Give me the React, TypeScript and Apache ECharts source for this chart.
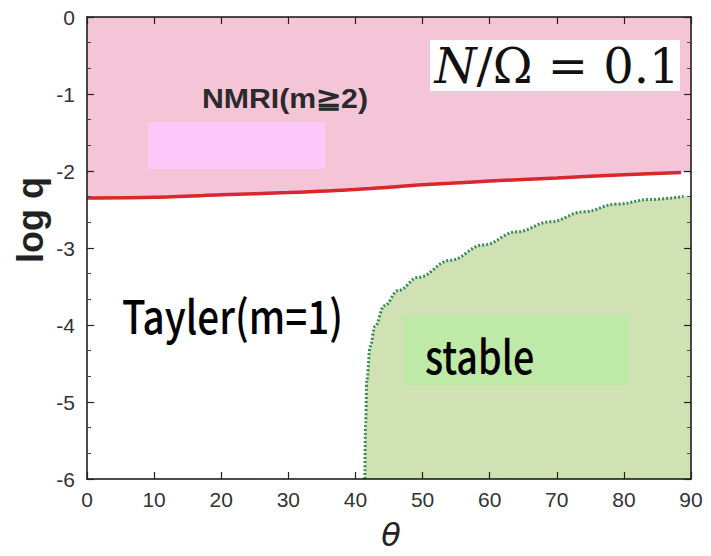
import React, { useEffect, useRef } from "react";
import * as echarts from "echarts";

// Red boundary (NMRI / Tayler)
const redTheta = [0, 10, 20, 30, 40, 50, 54, 60, 70, 80, 88.5];
const redLogQ = [-2.35, -2.34, -2.31, -2.28, -2.24, -2.18, -2.16, -2.13, -2.09, -2.05, -2.02];
// Pink region edge extended to the right frame
const pinkTheta = [0, 10, 20, 30, 40, 50, 54, 60, 70, 80, 88.5, 90];
const pinkLogQ = [-2.35, -2.34, -2.31, -2.28, -2.24, -2.18, -2.16, -2.13, -2.09, -2.05, -2.02, -2.02];
// Green boundary (stable region)
const greenTheta = [41.4, 41.5, 41.7, 42.2, 42.9, 44.3, 46.4, 49.4, 54.1, 59.1, 64.0, 69.0, 74.0, 78.9, 83.9, 88.9];
const greenLogQ = [-6, -5.3, -4.71, -4.28, -4.02, -3.75, -3.55, -3.38, -3.16, -2.96, -2.79, -2.66, -2.53, -2.43, -2.37, -2.33];
const greenFillTheta = [...greenTheta, 90];
const greenFillLogQ = [...greenLogQ, -2.32];

const xTicks = [0, 90, 10];
const yTicks = [-6, 0, 1];

const zip = (a: number[], b: number[]) => a.map((v, i) => [v, b[i]]);

export default function App() {
  const ref = useRef<HTMLDivElement>(null);
  useEffect(() => {
    document.body.style.margin = "0";
    const chart = echarts.init(ref.current!, null, { renderer: "svg" });
    const axisLine = () => ({ show: true, onZero: false, lineStyle: { color: "#111", width: 1.5 } });
    const tickStyle = () => ({ show: true, inside: true, length: 7, lineStyle: { color: "#222", width: 1.2 } });
    const minorStyle = () => ({ show: true, splitNumber: 3, length: 4, lineStyle: { color: "#444", width: 1 } });
    const labelFont = () => ({ color: "#333", fontSize: 21, fontFamily: "Liberation Sans, Arial, sans-serif" });
    chart.setOption({
      animation: false,
      backgroundColor: "#ffffff",
      grid: { left: 87, right: 20, top: 17, bottom: 77, containLabel: false, outerBoundsMode: "none" },
      xAxis: [
        {
          type: "value", position: "bottom", min: xTicks[0], max: xTicks[1], interval: xTicks[2], z: 10,
          axisLine: axisLine(), axisTick: tickStyle(), splitLine: { show: false },
          axisLabel: { ...labelFont(), margin: 10 },
        },
        {
          type: "value", position: "top", min: xTicks[0], max: xTicks[1], interval: xTicks[2], z: 10,
          axisLine: axisLine(), axisTick: tickStyle(), axisLabel: { show: false }, splitLine: { show: false },
        },
      ],
      yAxis: [
        {
          type: "value", position: "left", min: yTicks[0], max: yTicks[1], interval: yTicks[2], z: 10,
          axisLine: axisLine(), axisTick: tickStyle(), minorTick: minorStyle(), splitLine: { show: false },
          axisLabel: { ...labelFont(), margin: 12 },
        },
        {
          type: "value", position: "right", min: yTicks[0], max: yTicks[1], interval: yTicks[2], z: 10,
          axisLine: axisLine(), axisTick: tickStyle(), minorTick: minorStyle(), axisLabel: { show: false }, splitLine: { show: false },
        },
      ],
      series: [
        {
          type: "line", data: zip(pinkTheta, pinkLogQ), symbol: "none", smooth: 0.3,
          lineStyle: { width: 0, opacity: 0 },
          areaStyle: { color: "#f4c5d7", origin: "end", opacity: 1 }, z: 1,
        },
        {
          type: "line", data: zip(greenFillTheta, greenFillLogQ), symbol: "none", smooth: 0.4, smoothMonotone: "x",
          lineStyle: { width: 0, opacity: 0 },
          areaStyle: { color: "#d0e2b3", origin: "start", opacity: 1 }, z: 1,
        },
        {
          type: "line", data: zip(greenTheta, greenLogQ), symbol: "none", smooth: 0.4, smoothMonotone: "x",
          lineStyle: { color: "#3b8a5c", width: 3, type: [2, 2] }, z: 3,
        },
        {
          type: "line", data: zip(redTheta, redLogQ), symbol: "none", smooth: 0.3,
          lineStyle: { color: "#d8282e", width: 3.5 }, z: 3,
        },
      ],
      graphic: [
        { type: "rect", z: 100, shape: { x: 148, y: 122, width: 177, height: 47 }, style: { fill: "#fcc8fa" } },
        {
          type: "text", z: 101, x: 202, y: 98, scaleX: 1.08,
          style: { text: "NMRI(m≧2)", fill: "#2a2a2a", font: "bold 28px 'Liberation Sans', Arial, sans-serif", verticalAlign: "middle", align: "left" },
        },
        { type: "rect", z: 100, shape: { x: 430, y: 40, width: 250, height: 51 }, style: { fill: "#ffffff" } },
        {
          type: "text", z: 101, x: 557, y: 66,
          style: {
            text: "{a|N}{b|/Ω = 0.1}", align: "center", verticalAlign: "middle",
            rich: {
              a: { fontFamily: "DejaVu Serif, serif", fontStyle: "italic", fontSize: 48, fill: "#111" },
              b: { fontFamily: "DejaVu Serif, serif", fontSize: 48, fill: "#111" },
            },
          },
        },
        {
          type: "text", z: 101, x: 122, y: 314, scaleX: 0.84,
          style: { text: "Tayler(m=1)", fill: "#000", font: "500 46px 'Noto Sans CJK JP', sans-serif", verticalAlign: "middle", align: "left" },
        },
        { type: "rect", z: 100, shape: { x: 404, y: 315, width: 225, height: 70 }, style: { fill: "#bfe9a7" } },
        {
          type: "text", z: 101, x: 425, y: 354, scaleX: 0.82,
          style: { text: "stable", fill: "#000", font: "500 46px 'Noto Sans CJK JP', sans-serif", verticalAlign: "middle", align: "left" },
        },
        {
          type: "text", z: 101, x: 30, y: 220, rotation: Math.PI / 2,
          style: { text: "log q", fill: "#222", font: "bold 36px 'Liberation Sans', Arial, sans-serif", verticalAlign: "middle", align: "center" },
        },
        {
          type: "text", z: 101, x: 391, y: 535,
          style: { text: "θ", fill: "#222", font: "italic 32px 'DejaVu Sans', sans-serif", verticalAlign: "middle", align: "center" },
        },
      ],
    });
    return () => chart.dispose();
  }, []);
  return <div ref={ref} style={{ width: 711, height: 556, position: "fixed", left: 0, top: 0 }} />;
}
